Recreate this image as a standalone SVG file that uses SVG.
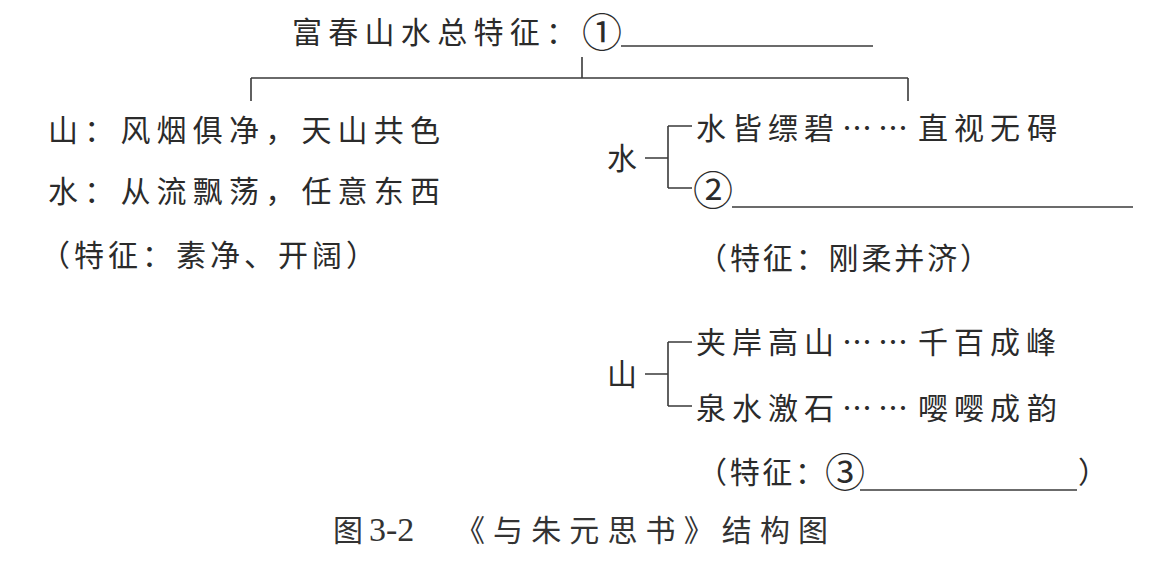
<svg xmlns="http://www.w3.org/2000/svg" width="1163" height="572" viewBox="0 0 1163 572">
<style>
text{font-family:"Noto Sans CJK SC","Noto Sans",sans-serif;font-size:30px;fill:#2b2b2b}
.c{font-size:40px;text-anchor:middle}
.ln{stroke:#3a3a3a;stroke-width:1.6;fill:none}
.cap{font-size:30px;fill:#333}
.num{font-family:"Liberation Serif",serif;font-size:34px}
.el{letter-spacing:6px}
</style>
<rect width="1163" height="572" fill="#fff"/>
<g id="connectors">
<path class="ln" d="M582 57V78M251 78H908M251 78V101M908 78V101"/>
<path class="ln" d="M645 158H668M668 126V188M668 126H692M668 188H692"/>
<path class="ln" d="M645 374H668M668 342V406M668 342H692M668 406H692"/>
</g>
<g id="title">
<text x="292" y="43" textLength="284" lengthAdjust="spacing">富春山水总特征：</text>
<text class="c" x="602" y="47">①</text>
<line class="ln" x1="621" y1="46" x2="873" y2="46"/>
</g>
<g id="left">
<text x="48" y="141" textLength="392" lengthAdjust="spacing">山：风烟俱净，天山共色</text>
<text x="48" y="202" textLength="392" lengthAdjust="spacing">水：从流飘荡，任意东西</text>
<text x="40" y="266" textLength="336" lengthAdjust="spacing">（特征：素净、开阔）</text>
</g>
<g id="water">
<text x="607" y="169">水</text>
<text x="696" y="139">水<tspan x="732">皆</tspan><tspan x="768">缥</tspan><tspan x="804">碧</tspan><tspan x="842" class="el">……</tspan><tspan x="918">直</tspan><tspan x="954">视</tspan><tspan x="990">无</tspan><tspan x="1027">碍</tspan></text>
<text class="c" x="713" y="205">②</text>
<line class="ln" x1="732" y1="207" x2="1133" y2="207"/>
<text x="697" y="269" textLength="293" lengthAdjust="spacing">（特征：刚柔并济）</text>
</g>
<g id="mountain">
<text x="607" y="385">山</text>
<text x="696" y="353">夹<tspan x="732">岸</tspan><tspan x="768">高</tspan><tspan x="804">山</tspan><tspan x="842" class="el">……</tspan><tspan x="918">千</tspan><tspan x="954">百</tspan><tspan x="990">成</tspan><tspan x="1026">峰</tspan></text>
<text x="696" y="419">泉<tspan x="732">水</tspan><tspan x="768">激</tspan><tspan x="804">石</tspan><tspan x="842" class="el">……</tspan><tspan x="918">嘤</tspan><tspan x="954">嘤</tspan><tspan x="990">成</tspan><tspan x="1027">韵</tspan></text>
<text x="697" y="483" textLength="128" lengthAdjust="spacing">（特征：</text>
<text class="c" x="845" y="487">③</text>
<line class="ln" x1="860" y1="490" x2="1077" y2="490"/>
<text x="1078" y="483">）</text>
</g>
<g id="caption">
<text class="cap" x="333" y="541">图</text>
<text class="cap num" x="369" y="541">3-2</text>
<text class="cap" x="455" y="541" textLength="373" lengthAdjust="spacing">《与朱元思书》结构图</text>
</g>
</svg>
